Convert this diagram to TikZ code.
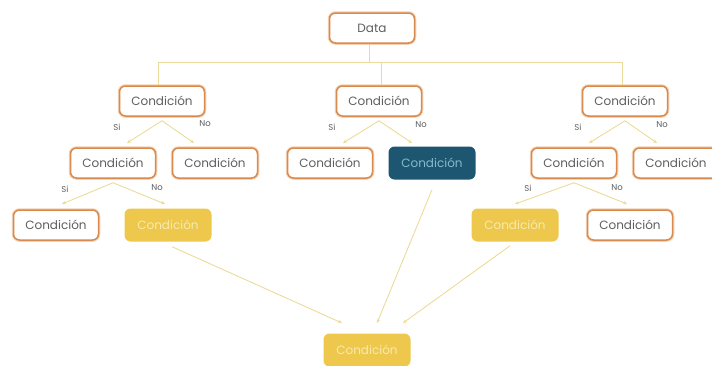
\documentclass[tikz,border=0pt]{standalone}
\usepackage{fontspec}
\setmainfont{Poppins}
\usetikzlibrary{arrows.meta}
\definecolor{bord}{HTML}{D98A4E}
\definecolor{halo}{HTML}{F3D2B4}
\definecolor{linec}{HTML}{ECDB98}
\definecolor{txt}{HTML}{5E5E5E}
\definecolor{yel}{HTML}{EEC84C}
\definecolor{yeltxt}{HTML}{F8EAB0}
\definecolor{dark}{HTML}{1C5670}
\definecolor{darktxt}{HTML}{86BACF}
\tikzset{
  base/.style={rounded corners=6pt, minimum width=85pt, minimum height=30pt, inner sep=0pt, font=\fontsize{12}{14}\selectfont},
  cond/.style={base, draw=bord, line width=1.5pt, fill=white, text=txt,
    preaction={draw=halo, line width=3.5pt}},
  ycond/.style={base, fill=yel, text=yeltxt, minimum width=87pt, minimum height=33pt},
  dcond/.style={base, fill=dark, text=darktxt, minimum width=87pt, minimum height=33pt},
  conn/.style={draw=linec, line width=0.9pt},
  arr/.style={conn, -{Stealth[length=4pt,width=3.5pt]}},
  lab/.style={font=\fontsize{8.5}{10}\selectfont, text=txt, inner sep=0pt}
}
\begin{document}
\begin{tikzpicture}[x=1pt,y=1pt]
\useasboundingbox (0,0) rectangle (712,-365);
\clip (0,0) rectangle (712,-365);
% nodes
\node[cond] (data) at (372,-28) {Data};
\node[cond] (a) at (162,-101) {Condición};
\node[cond] (b) at (379,-101) {Condición};
\node[cond] (c) at (625,-101) {Condición};
\node[cond] (a1) at (113,-163) {Condición};
\node[cond] (a2) at (215,-163) {Condición};
\node[cond] (b1) at (330,-163) {Condición};
\node[dcond] (b2) at (432,-163) {Condición};
\node[cond] (c1) at (574,-163) {Condición};
\node[cond] (c2) at (676,-163) {Condición};
\node[cond] (a11) at (56,-225) {Condición};
\node[ycond] (a12) at (168,-225) {Condición};
\node[ycond] (c11) at (515,-225) {Condición};
\node[cond] (c12) at (630,-225) {Condición};
\node[ycond] (fin) at (367,-350) {Condición};
% trunk
\coordinate (h0) at (369,-62);
\coordinate (hl) at (158,-62);
\coordinate (hm) at (381,-62);
\coordinate (hr) at (622,-62);
\draw[conn] (data.south -| h0) -- (h0);
\draw[conn] (hl) -- (hr);
\draw[conn] (hl) -- (hl |- a.north);
\draw[conn] (hm) -- (hm |- b.north);
\draw[conn] (hr) -- (hr |- c.north);
% tips
\coordinate (ta1) at (127,-143); \coordinate (ta2) at (194,-143);
\coordinate (tb1) at (343,-143); \coordinate (tb2) at (412,-143);
\coordinate (tc1) at (589,-143); \coordinate (tc2) at (657,-143);
\coordinate (ta11) at (62,-204); \coordinate (ta12) at (165,-204);
\coordinate (tc11) at (515,-204); \coordinate (tc12) at (627,-204);
\coordinate (tf1) at (342,-323); \coordinate (tf2) at (377,-323); \coordinate (tf3) at (403,-323);
\draw[arr] ([yshift=-4pt]a.south) -- (ta1);
\draw[arr] ([yshift=-4pt]a.south) -- (ta2);
\draw[arr] ([yshift=-4pt]b.south) -- (tb1);
\draw[arr] ([yshift=-4pt]b.south) -- (tb2);
\draw[arr] ([yshift=-4pt]c.south) -- (tc1);
\draw[arr] ([yshift=-4pt]c.south) -- (tc2);
\draw[arr] ([yshift=-4pt]a1.south) -- (ta11);
\draw[arr] ([yshift=-4pt]a1.south) -- (ta12);
\draw[arr] ([yshift=-4pt]c1.south) -- (tc11);
\draw[arr] ([yshift=-4pt]c1.south) -- (tc12);
\draw[arr] ([xshift=4pt,yshift=-5pt]a12.south) -- (tf1);
\draw[arr] ([yshift=-10pt]b2.south) -- (tf2);
\draw[arr] ([xshift=-5pt,yshift=-4pt]c11.south) -- (tf3);
% labels
\node[lab] (la1) at (117,-127) {Si};
\node[lab] (la2) at (205,-124) {No};
\node[lab] (lb1) at (332,-127) {Si};
\node[lab] (lb2) at (421,-125) {No};
\node[lab] (lc1) at (578,-127) {Si};
\node[lab] (lc2) at (662,-125) {No};
\node[lab] (la11) at (65,-189) {Si};
\node[lab] (la12) at (157,-188) {No};
\node[lab] (lc11) at (528,-188) {Si};
\node[lab] (lc12) at (617,-188) {No};
\end{tikzpicture}
\end{document}
